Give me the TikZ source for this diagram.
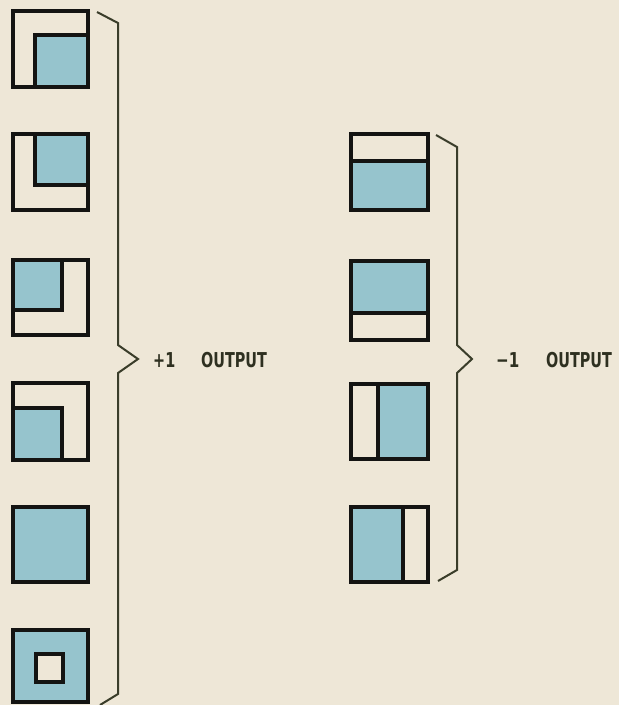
\documentclass[tikz,border=0pt]{standalone}
\usepackage{fontspec}
\setmainfont{DejaVu Sans}
\newfontfamily\condfont{DejaVu Sans Condensed}
\definecolor{bg}{HTML}{EEE7D7}
\definecolor{cyanfill}{HTML}{96C4CD}
\definecolor{ink}{HTML}{141412}
\definecolor{bracecol}{HTML}{3A3D2A}
\definecolor{txt}{HTML}{2E3020}
\tikzset{
  frame/.style={draw=ink, line width=4.5pt, line join=miter},
  divider/.style={draw=ink, line width=4.5pt},
  bluearea/.style={fill=cyanfill},
  bracket/.style={draw=bracecol, line width=2pt, line join=miter},
  label/.style={text=txt, inner sep=0pt, anchor=west, font=\condfont\bfseries\fontsize{20.5}{21}\selectfont}
}
\begin{document}
\begin{tikzpicture}[x=1pt,y=-1pt]
\fill[bg] (0,0) rectangle (619,705);
\useasboundingbox (0,0) rectangle (619,705);
% left column
% box 1
\fill[bluearea] (35,35) rectangle (88,87);
\draw[divider] (35,87) -- (35,35) -- (88,35);
\draw[frame] (13,11) rectangle (88,87);
% box 2
\fill[bluearea] (35,134) rectangle (88,185);
\draw[divider] (35,134) -- (35,185) -- (88,185);
\draw[frame] (13,134) rectangle (88,210);
% box 3
\fill[bluearea] (13,260) rectangle (62,310);
\draw[divider] (13,310) -- (62,310) -- (62,260);
\draw[frame] (13,260) rectangle (88,335);
% box 4
\fill[bluearea] (13,408) rectangle (62,460);
\draw[divider] (13,408) -- (62,408) -- (62,460);
\draw[frame] (13,383) rectangle (88,460);
% box 5
\fill[bluearea] (13,507) rectangle (88,582);
\draw[frame] (13,507) rectangle (88,582);
% box 6
\fill[bluearea] (13,630) rectangle (88,702);
\fill[bg] (36,654) rectangle (63,682);
\draw[divider] (36,654) rectangle (63,682);
\draw[frame] (13,630) rectangle (88,702);
% right column
% box A
\fill[bluearea] (351,161) rectangle (428,210);
\draw[divider] (351,161) -- (428,161);
\draw[frame] (351,134) rectangle (428,210);
% box B
\fill[bluearea] (351,261) rectangle (428,313);
\draw[divider] (351,313) -- (428,313);
\draw[frame] (351,261) rectangle (428,340);
% box C
\fill[bluearea] (378,384) rectangle (428,459);
\draw[divider] (378,384) -- (378,459);
\draw[frame] (351,384) rectangle (428,459);
% box D
\fill[bluearea] (351,507) rectangle (403,582);
\draw[divider] (403,507) -- (403,582);
\draw[frame] (351,507) rectangle (428,582);
% braces
\coordinate (lt) at (97,12);
\coordinate (ltip) at (138,359);
\coordinate (lb) at (100,705);
\draw[bracket] (lt) -- (118,23) -- (118,345) -- (ltip) -- (118,373) -- (118,694) -- (lb);
\coordinate (rt) at (436,135);
\coordinate (rtip) at (472,359);
\coordinate (rb) at (438,581);
\draw[bracket] (rt) -- (457,147) -- (457,345) -- (rtip) -- (457,373) -- (457,570) -- (rb);
% labels
\node[label] (plusone) at (153,360) {\scalebox{0.78}[1]{+1}};
\node[label] (plusout) at (201,360) {\scalebox{0.78}[1]{OUTPUT}};
\node[label] (minusone) at (496,360) {\scalebox{0.82}[1]{−1}};
\node[label] (minusout) at (546,360) {\scalebox{0.78}[1]{OUTPUT}};
\end{tikzpicture}
\end{document}
